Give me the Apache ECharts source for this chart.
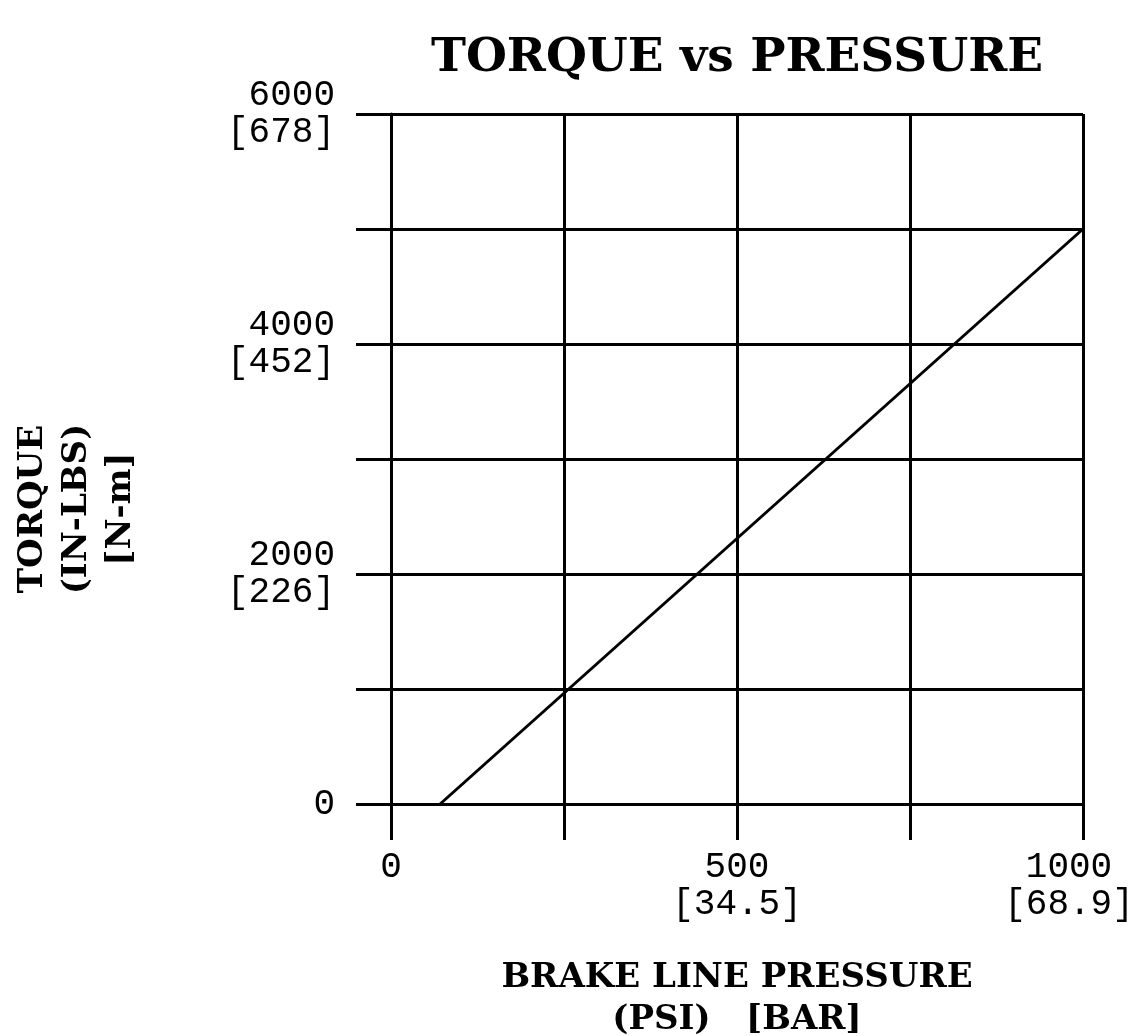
<!DOCTYPE html>
<html>
<head>
<meta charset="utf-8">
<style>
  html, body { margin: 0; padding: 0; background: #ffffff; }
  #chart { width: 1144px; height: 1036px; }
</style>
<script src="https://cdn.jsdelivr.net/npm/echarts@6/dist/echarts.min.js"></script>
</head>
<body>
<div id="chart"></div>
<script>
// ---- data ----
const pressurePsi = [71, 1000];
const torqueInLbs = [0, 5000];
const xTickLabels = { 0: '0', 500: '500\n[34.5]', 1000: '{m|1000}\n{m|[68.9]}' };
const yTickLabels = { 0: '0', 2000: '2000\n[226]', 4000: '4000\n[452]', 6000: '6000\n[678]' };

const chartTitle = 'TORQUE vs PRESSURE';
const xAxisName = 'BRAKE LINE PRESSURE\n(PSI)   [BAR]';
const yAxisName = 'TORQUE\n(IN-LBS)\n[N-m]';

const seriesData = pressurePsi.map((p, i) => [p, torqueInLbs[i]]);

const labelFont = '"Liberation Mono", "DejaVu Sans Mono", monospace';
const nameFont = '"DejaVu Serif", "Liberation Serif", serif';
const black = '#000000';

const chart = echarts.init(document.getElementById('chart'), null, { renderer: 'canvas' });
chart.setOption({
  backgroundColor: '#ffffff',
  animation: false,
  title: {
    text: chartTitle,
    left: 732,
    textAlign: 'center',
    top: 30,
    textStyle: { fontFamily: nameFont, fontWeight: 'bold', fontSize: 47, color: black }
  },
  grid: { left: 391, right: 61, top: 114, bottom: 232, containLabel: false, outerBoundsMode: 'none' },
  xAxis: {
    type: 'value',
    min: 0,
    max: 1000,
    interval: 250,
    name: xAxisName,
    nameLocation: 'middle',
    nameGap: 153,
    nameTextStyle: { fontFamily: nameFont, fontWeight: 'bold', fontSize: 34, lineHeight: 42, color: black },
    axisLine: { show: true, lineStyle: { color: black, width: 3 } },
    axisTick: { show: true, length: 36, lineStyle: { color: black, width: 3 } },
    splitLine: { show: true, lineStyle: { color: black, width: 3 } },
    axisLabel: {
      margin: 45,
      fontFamily: labelFont,
      fontSize: 36,
      lineHeight: 37,
      color: black,
      formatter: v => (xTickLabels[v] !== undefined ? xTickLabels[v] : ''),
      rich: { m: { fontFamily: labelFont, fontSize: 36, lineHeight: 37, color: black, padding: [0, 28, 0, 0] } }
    }
  },
  yAxis: {
    type: 'value',
    min: 0,
    max: 6000,
    interval: 1000,
    name: yAxisName,
    nameLocation: 'middle',
    nameRotate: 90,
    nameGap: 248,
    nameTextStyle: { fontFamily: nameFont, fontWeight: 'bold', fontSize: 34, lineHeight: 44, color: black, padding: [0, 100, 0, 0] },
    axisLine: { show: true, lineStyle: { color: black, width: 3 } },
    axisTick: { show: true, length: 35, lineStyle: { color: black, width: 3 } },
    splitLine: { show: true, lineStyle: { color: black, width: 3 } },
    axisLabel: {
      margin: 56,
      fontFamily: labelFont,
      fontSize: 36,
      lineHeight: 37,
      color: black,
      align: 'right',
      formatter: v => (yTickLabels[v] !== undefined ? yTickLabels[v] : '')
    }
  },
  series: [{
    type: 'line',
    data: seriesData,
    symbol: 'none',
    lineStyle: { color: black, width: 3 },
    clip: false
  }]
});
</script>
</body>
</html>
